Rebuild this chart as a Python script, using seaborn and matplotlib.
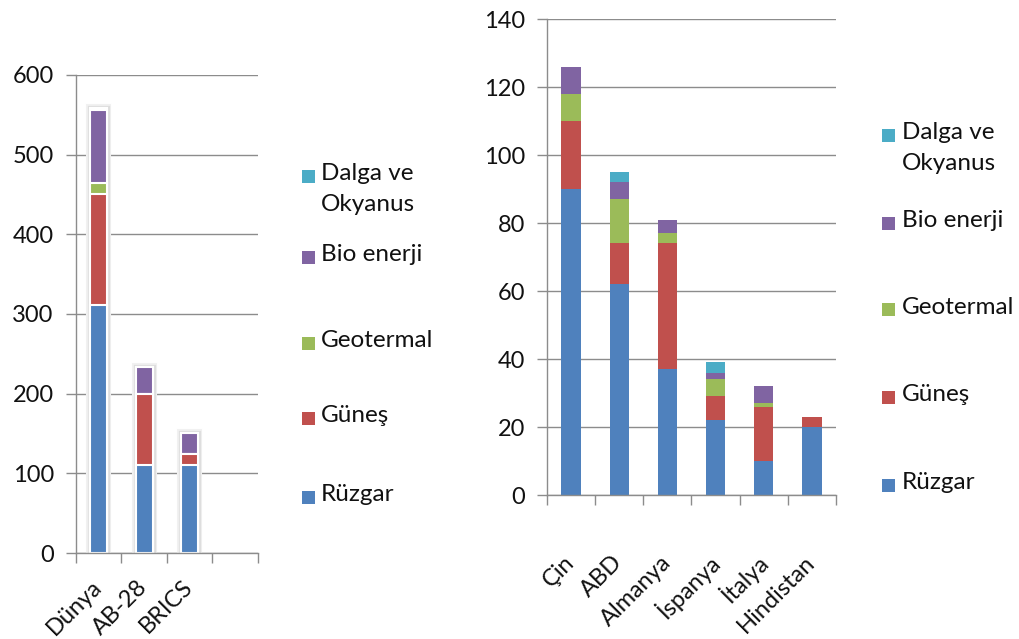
import matplotlib
matplotlib.use("Agg")
import matplotlib.pyplot as plt
import numpy as np
import pandas as pd
import seaborn as sns
from matplotlib import patheffects as pe
from matplotlib.patches import Rectangle

# Energy sources, bottom to top of each stack
sources = ["Rüzgar", "Güneş", "Geotermal", "Bio enerji", "Dalga ve\nOkyanus"]
colors = ["#4F81BD", "#C0504D", "#9BBB59", "#8064A2", "#4BACC6"]

# Left panel: world and blocs
regions = ["Dünya", "AB-28", "BRICS"]
reg_ruzgar = [311, 110, 110]
reg_gunes = [140, 90, 14]
reg_geotermal = [14, 0, 0]
reg_bio = [91, 34, 27]
reg_dalga = [3, 0, 0]

# Right panel: leading countries
countries = ["Çin", "ABD", "Almanya", "İspanya", "İtalya", "Hindistan"]
cty_ruzgar = [90, 62, 37, 22, 10, 20]
cty_gunes = [20, 12, 37, 7, 16, 3]
cty_geotermal = [8, 13, 3, 5, 1, 0]
cty_bio = [8, 5, 4, 2, 5, 0]
cty_dalga = [0, 3, 0, 3, 0, 0]

W, H = 1020, 639
sns.set_theme(style="white")
plt.rcParams["font.family"] = ["Lato", "DejaVu Sans"]
GRID = "#8c8c8c"
FS = 17

fig = plt.figure(figsize=(W / 100, H / 100), dpi=100)


def px_axes(x0, x1, ytop, ybot):
    return fig.add_axes([x0 / W, 1 - ybot / H, (x1 - x0) / W, (ybot - ytop) / H])


def stacked(ax, groups, series, width, edge, lw, halo):
    frame = pd.DataFrame({"group": groups})
    for name, vals in zip(sources, series):
        frame[name] = vals
    cum = frame[sources].cumsum(axis=1)
    cum["group"] = groups
    for k in reversed(range(len(sources))):
        n0 = len(ax.patches)
        sns.barplot(data=cum, x="group", y=sources[k], order=groups,
                    color=colors[k], saturation=1, width=width,
                    edgecolor=edge, linewidth=lw, errorbar=None, ax=ax)
        if halo and k == len(sources) - 1:
            # soft grey glow around the whole stack
            for p in ax.patches[n0:]:
                p.set_path_effects([
                    pe.Stroke(linewidth=5.8, foreground="#f1f1f1"),
                    pe.Stroke(linewidth=3.8, foreground="#dedede"),
                    pe.Normal(),
                ])


def style_axis(ax, groups, nslots, ymax, ystep, xpad):
    ax.set_xlim(-0.5, nslots - 0.5)
    ax.set_ylim(0, ymax)
    ax.set_yticks(np.arange(0, ymax + 1, ystep))
    ax.set_xticks(np.arange(-0.5, nslots, 1.0))
    ax.set_xticklabels([])
    ax.set_xticks(np.arange(len(groups)), minor=True)
    ax.set_xticklabels(groups, minor=True, rotation=45, ha="right",
                       rotation_mode="anchor", va="center", fontsize=FS)
    ax.tick_params(axis="x", which="major", direction="out", length=7,
                   width=1, color=GRID, bottom=True)
    ax.tick_params(axis="x", which="minor", length=0, pad=xpad)
    ax.tick_params(axis="y", direction="out", length=7, width=1,
                   color=GRID, left=True, labelsize=FS, pad=9)
    ax.yaxis.grid(True, color=GRID, linewidth=1)
    ax.xaxis.grid(False)
    ax.set_axisbelow(True)
    for s in ("top", "right"):
        ax.spines[s].set_visible(False)
    for s in ("left", "bottom"):
        ax.spines[s].set_color(GRID)
        ax.spines[s].set_linewidth(1)
    ax.set_xlabel("")
    ax.set_ylabel("")
    for t in ax.get_xticklabels(minor=True) + ax.get_yticklabels():
        t.set_color("#111111")


ax1 = px_axes(76, 258, 75, 553)
stacked(ax1, regions, [reg_ruzgar, reg_gunes, reg_geotermal, reg_bio, reg_dalga],
        0.38, "white", 1.5, True)
style_axis(ax1, regions, 4, 600, 100, 22)

ax2 = px_axes(547, 836, 19, 495)
stacked(ax2, countries, [cty_ruzgar, cty_gunes, cty_geotermal, cty_bio, cty_dalga],
        0.40, "none", 0, False)
style_axis(ax2, countries, 6, 140, 20, 46)


def legend_column(x_sq, x_txt, centers, size=13):
    # centers: vertical centre (px) of each entry's first text line, top entry first
    for k, yc in zip(reversed(range(len(sources))), centers):
        fig.add_artist(Rectangle((x_sq / W, 1 - (yc + size / 2) / H), size / W, size / H,
                                 transform=fig.transFigure, facecolor=colors[k],
                                 edgecolor="none"))
        fig.text(x_txt / W, 1 - (yc - 13) / H, sources[k], ha="left", va="top",
                 fontsize=FS + 0.5, color="#111111", linespacing=1.6)


legend_column(302, 321, [176, 257, 343, 418, 497])
legend_column(882, 902, [135, 223, 310, 397, 485])

fig.savefig("out.png", dpi=100, facecolor="white")
